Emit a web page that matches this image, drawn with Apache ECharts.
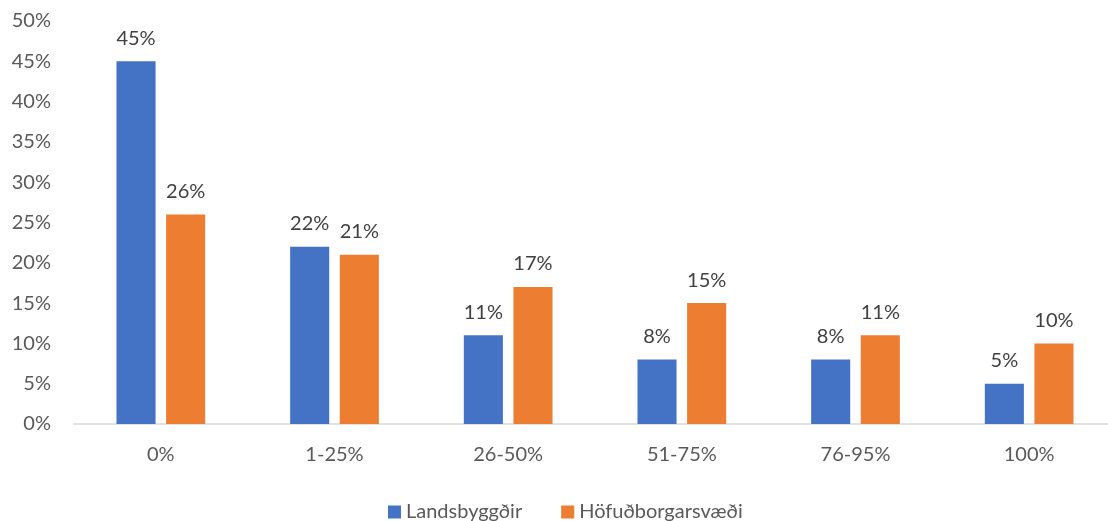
<!DOCTYPE html>
<html><head><meta charset="utf-8">
<script src="https://cdn.jsdelivr.net/npm/echarts@6/dist/echarts.min.js"></script>
<style>html,body{margin:0;padding:0;background:#fff;overflow:hidden}#c{width:1116px;height:521px}</style>
</head><body><div id="c"></div>
<script>
const categories = ['0%', '1-25%', '26-50%', '51-75%', '76-95%', '100%'];
const landsbyggdir = [45, 22, 11, 8, 8, 5];
const hofudborgarsvaedi = [26, 21, 17, 15, 11, 10];
const seriesNames = ['Landsbyggðir', 'Höfuðborgarsvæði'];
const yTicks = { min: 0, max: 50, interval: 5 };

const font = 'Lato, "Open Sans", sans-serif';
const txt = '#595959';
const chart = echarts.init(document.getElementById('c'));
const label = { show: true, position: 'top', distance: 13, formatter: p => p.value + '%', color: '#404040', fontSize: 20, fontFamily: font };
chart.setOption({
  animation: false,
  textStyle: { fontFamily: font },
  grid: { left: 74, right: 0, top: 21, bottom: 97 },
  legend: {
    top: 497, left: 383, itemWidth: 13, itemHeight: 13, itemGap: 39,
    icon: 'rect',
    textStyle: { color: txt, fontSize: 20, fontFamily: font }
  },
  xAxis: {
    type: 'category', data: categories,
    axisLine: { lineStyle: { color: '#d9d9d9', width: 1.5 } },
    axisTick: { show: false },
    axisLabel: { color: txt, fontSize: 20, margin: 21, fontFamily: font }
  },
  yAxis: {
    type: 'value', min: yTicks.min, max: yTicks.max, interval: yTicks.interval,
    splitLine: { show: false },
    axisLine: { show: false }, axisTick: { show: false },
    axisLabel: { color: txt, fontSize: 20, margin: 23, formatter: v => v + '%', fontFamily: font }
  },
  series: [
    { name: seriesNames[0], type: 'bar', data: landsbyggdir, barWidth: '22.5%', barGap: '27%', itemStyle: { color: '#4472c4' }, label },
    { name: seriesNames[1], type: 'bar', data: hofudborgarsvaedi, barWidth: '22.5%', itemStyle: { color: '#ed7d31' }, label }
  ]
});
</script></body></html>
